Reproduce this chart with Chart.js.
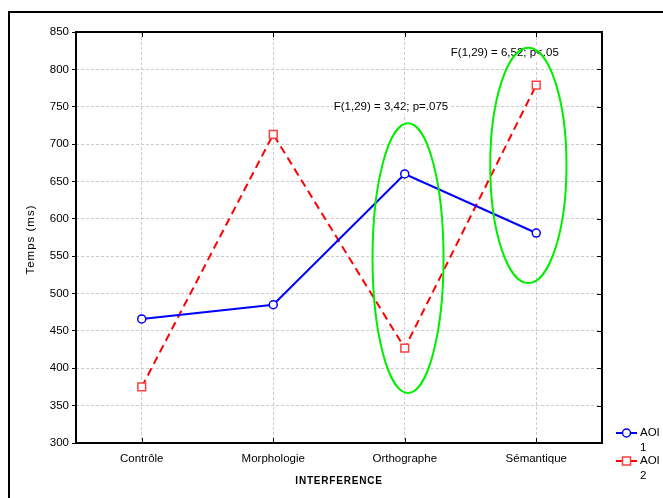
<!DOCTYPE html>
<html>
<head>
<meta charset="utf-8">
<script src="https://cdn.jsdelivr.net/npm/chart.js@4"></script>
<style>
  html, body { margin: 0; padding: 0; background: #fff; }
</style>
</head>
<body>
<canvas id="chart" width="663" height="498"></canvas>
<script>
const categories = ['Contrôle', 'Morphologie', 'Orthographe', 'Sémantique'];
const aoi1 = [466, 485, 660, 581];
const aoi2 = [375, 713, 427, 779];
const yMin = 300, yMax = 850, yStep = 50;

// annotations, in category index / y value units
const notes = [
  { text: 'F(1,29) = 3,42; p=.075', x: 1.46, y: 750 },
  { text: 'F(1,29) = 6,52; p<.05', x: 2.35, y: 822 }
];
const ellipses = [
  { x: 2.025, top: 728, bottom: 367, half: 0.27 },
  { x: 2.94, top: 829, bottom: 514, half: 0.29 }
];

const FONT = '"Liberation Sans", Arial, sans-serif';

const decor = {
  id: 'decor',
  afterDatasetsDraw(chart) {
    const { ctx, scales: { x, y } } = chart;
    ctx.save();
    ctx.font = '11.5px ' + FONT;
    ctx.textBaseline = 'middle';
    notes.forEach(n => {
      const px = x.getPixelForValue(n.x), py = y.getPixelForValue(n.y);
      const w = ctx.measureText(n.text).width;
      ctx.fillStyle = '#fff';
      ctx.fillRect(px - 1, py - 7, w + 2, 14);
      ctx.fillStyle = '#000';
      ctx.fillText(n.text, px, py);
    });
    ctx.strokeStyle = '#00ee00';
    ctx.lineWidth = 2;
    ellipses.forEach(e => {
      const cx = x.getPixelForValue(e.x);
      const rx = x.getPixelForValue(e.x + e.half) - cx;
      const t = y.getPixelForValue(e.top), b = y.getPixelForValue(e.bottom);
      ctx.beginPath();
      ctx.ellipse(cx, (t + b) / 2, rx, (b - t) / 2, 0, 0, Math.PI * 2);
      ctx.stroke();
    });
    ctx.restore();
  },
  afterDraw(chart) {
    const { ctx, chartArea: a, scales: { x, y } } = chart;
    ctx.save();
    // plot frame
    ctx.strokeStyle = '#000';
    ctx.lineWidth = 2;
    ctx.strokeRect(a.left, a.top, a.right - a.left, a.bottom - a.top);
    // inner ticks
    ctx.lineWidth = 1;
    ctx.beginPath();
    categories.forEach((c, i) => {
      const px = Math.round(x.getPixelForValue(i)) + 0.5;
      ctx.moveTo(px, a.bottom); ctx.lineTo(px, a.bottom - 5);
      ctx.moveTo(px, a.top); ctx.lineTo(px, a.top + 5);
    });
    for (let v = yMin; v <= yMax; v += yStep) {
      const py = Math.round(y.getPixelForValue(v)) + 0.5;
      ctx.moveTo(a.right, py); ctx.lineTo(a.right - 5, py);
    }
    ctx.stroke();
    // outer frame
    ctx.lineWidth = 2;
    ctx.beginPath();
    ctx.moveTo(9, 498); ctx.lineTo(9, 12); ctx.lineTo(663, 12);
    ctx.stroke();

    // axis titles
    ctx.fillStyle = '#000';
    ctx.textAlign = 'center';
    ctx.textBaseline = 'middle';
    ctx.save();
    ctx.translate(31, (a.top + a.bottom) / 2 + 2);
    ctx.rotate(-Math.PI / 2);
    ctx.font = '11.5px ' + FONT;
    ctx.letterSpacing = '1px';
    ctx.fillText('Temps (ms)', 0, 0);
    ctx.restore();
    ctx.save();
    ctx.font = 'bold 10px ' + FONT;
    ctx.letterSpacing = '0.8px';
    ctx.fillText('INTERFERENCE', (a.left + a.right) / 2, 481);
    ctx.restore();

    // legend
    ctx.font = '11.5px ' + FONT;
    ctx.textAlign = 'left';
    chart.data.datasets.forEach((ds, i) => {
      const ly = 433 + i * 28;
      ctx.strokeStyle = ds.borderColor;
      ctx.lineWidth = 2;
      ctx.setLineDash([]);
      ctx.beginPath();
      ctx.moveTo(616, ly); ctx.lineTo(637, ly);
      ctx.stroke();
      ctx.fillStyle = '#fff';
      ctx.strokeStyle = ds.pointBorderColor;
      ctx.lineWidth = 1.5;
      ctx.beginPath();
      if (ds.pointStyle === 'rect') ctx.rect(622.5, ly - 4, 8, 8);
      else ctx.arc(626.5, ly, 4, 0, Math.PI * 2);
      ctx.fill(); ctx.stroke();
      ctx.fillStyle = '#000';
      const parts = ds.label.split(' ');
      ctx.fillText(parts[0], 640, ly);
      ctx.fillText(parts[1], 640, ly + 15);
    });
    ctx.restore();
  }
};

new Chart(document.getElementById('chart'), {
  type: 'line',
  data: {
    labels: categories,
    datasets: [{
      label: 'AOI 1',
      data: aoi1,
      borderColor: '#0000ff',
      borderWidth: 2,
      pointStyle: 'circle',
      pointRadius: 4,
      pointBorderColor: '#0000ff',
      pointBorderWidth: 1.5,
      pointBackgroundColor: '#fff',
      tension: 0
    }, {
      label: 'AOI 2',
      data: aoi2,
      borderColor: '#ff0000',
      borderWidth: 2,
      borderDash: [8, 5],
      pointStyle: 'rect',
      pointRadius: 5.5,
      pointBorderColor: '#ff4040',
      pointBorderWidth: 1.5,
      pointBackgroundColor: '#fff',
      tension: 0
    }]
  },
  options: {
    responsive: false,
    animation: false,
    layout: { padding: { left: 0, right: 61, top: 32, bottom: 0 } },
    plugins: { legend: { display: false }, tooltip: { enabled: false } },
    scales: {
      x: {
        offset: true,
        grid: { color: '#cccccc', lineWidth: 1, drawTicks: false, offset: false },
        border: { display: false, dash: [3, 2] },
        ticks: { color: '#000', padding: 9, font: { family: FONT, size: 11.5 } },
        afterFit(s) { s.height = 55; }
      },
      y: {
        min: yMin,
        max: yMax,
        grid: { color: '#cccccc', lineWidth: 1, tickLength: 4, tickColor: '#000', tickWidth: 1 },
        border: { display: false, dash: [3, 2] },
        ticks: { stepSize: yStep, color: '#000', padding: 3, font: { family: FONT, size: 11.5 } },
        afterFit(s) { s.width = 76; }
      }
    }
  },
  plugins: [decor]
});
</script>
</body>
</html>
